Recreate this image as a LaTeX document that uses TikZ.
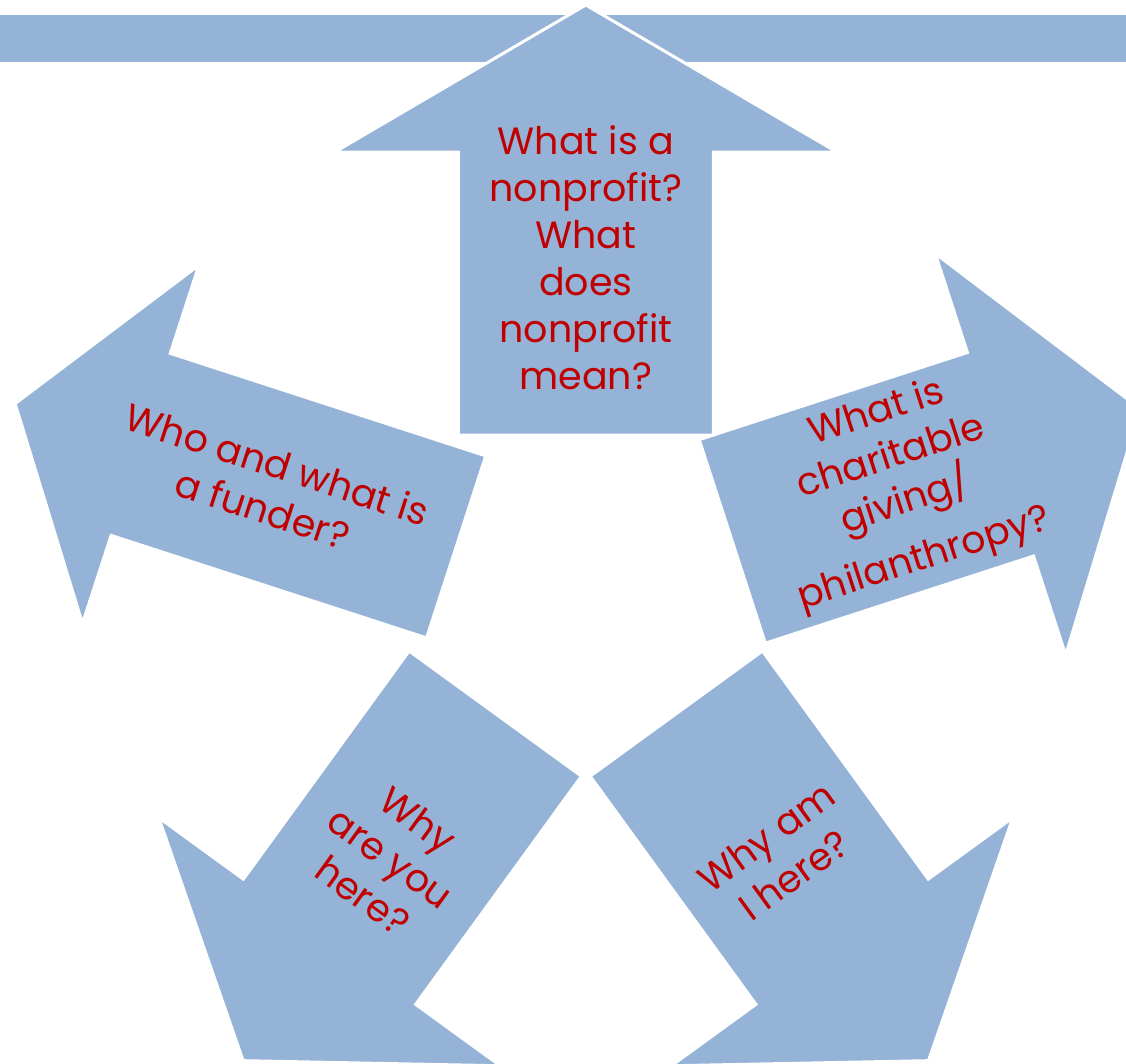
\documentclass[tikz,border=0pt]{standalone}
\usepackage{fontspec}
\setmainfont{Poppins}
\definecolor{arrowblue}{RGB}{149,179,215}
\definecolor{textred}{RGB}{192,0,0}
\tikzset{
  arrowshape/.style={fill=arrowblue, draw=white, line width=3pt, line join=miter},
  qtext/.style={text=textred, align=center, inner sep=0pt,
    font=\fontsize{38}{47}\selectfont},
}
% #1 angle, #2 base distance, #3 body half width, #4 junction distance, #5 head half width, #6 tip distance
\newcommand\radialarrow[6]{%
  \begin{scope}[shift={(C)}, rotate=#1]
    \filldraw[arrowshape] (#2,-#3) -- (#4,-#3) -- (#4,-#5) -- (#6,0)
      -- (#4,#5) -- (#4,#3) -- (#2,#3) -- cycle;
  \end{scope}}
\begin{document}
\begin{tikzpicture}[x=1pt,y=1pt]
\useasboundingbox (0,0) rectangle (1126,-1063);
\clip (0,0) rectangle (1126,-1063);
\coordinate (C) at (585.8,-589);
% top bar
\fill[arrowblue] (0,-15) rectangle (1126,-62);
% arrows
\radialarrow{90}{154}{127.5}{437}{251}{584}
\radialarrow{162}{136.3}{95.7}{468}{188.4}{600}
\radialarrow{-126}{154}{106.5}{436}{211}{583}
\radialarrow{-54}{154}{106.5}{436}{211}{583}
\radialarrow{18}{154}{107}{436}{211}{583}
% texts
\node[qtext] (t1) at ([shift={(90:331)}]C)
  {What is a\\nonprofit?\\What\\does\\nonprofit\\mean?};
\node[qtext, rotate=18] (t2) at ([shift={(18:331)}]C)
  {What is\\charitable\\giving/\\[12pt]philanthropy?};
\node[qtext, rotate=-18] (t3) at ([shift={(162:332)}]C)
  {Who and what is\\a funder?};
\node[qtext, rotate=-36] (t4) at ([shift={(-126:332)}]C)
  {Why\\are you\\here?};
\node[qtext, rotate=36] (t5) at ([shift={(-54:330)}]C)
  {Why am\\I here?};
\end{tikzpicture}
\end{document}
